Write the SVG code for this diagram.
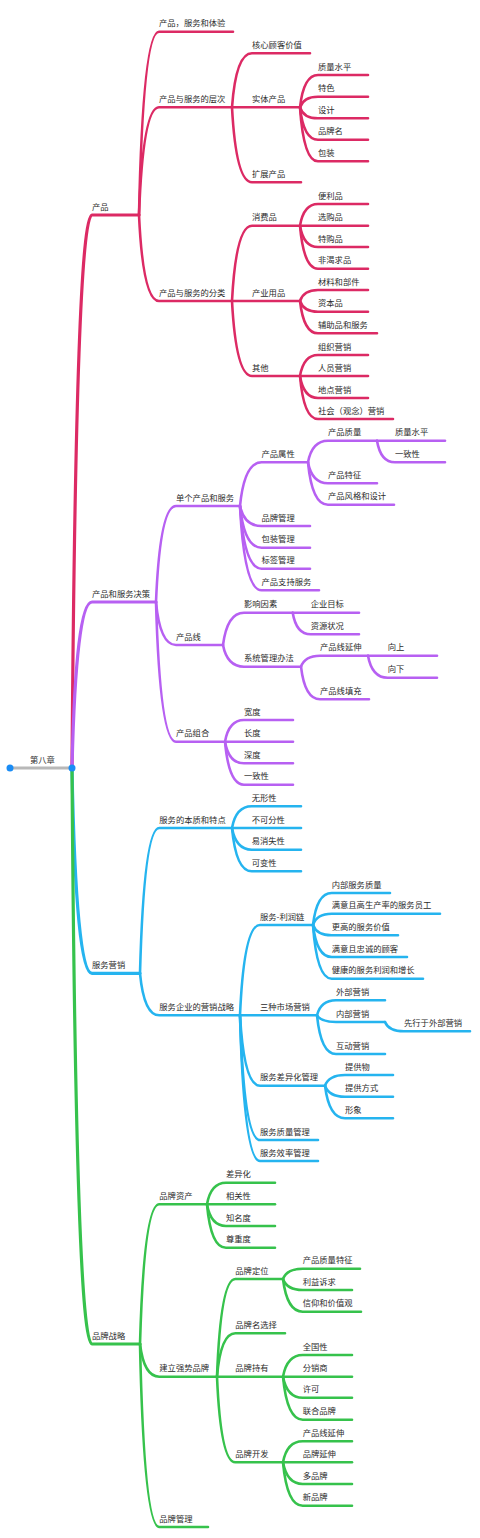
<svg xmlns="http://www.w3.org/2000/svg" width="480" height="1538" viewBox="0 0 480 1538">
<style>
.t{font-family:"Noto Sans CJK SC","Noto Sans",sans-serif;font-size:8.3px;fill:#2b2b2b}
path{fill:none;stroke-width:2.6;stroke-linecap:round;stroke-linejoin:round}
.l1{stroke-width:3.2}
.r{stroke:#dc2a64}.p{stroke:#b760f2}.c{stroke:#25b4ef}.g{stroke:#36c24c}
</style>
<rect width="480" height="1538" fill="#ffffff"/>
<g id="connectors">
<line x1="10" y1="768" x2="72" y2="768" stroke="#b8b8b8" stroke-width="3"/>
<g class="r">
<path class="l1" d="M72 768 Q76 215 92 215 H139"/>
<path d="M139 215 Q143 31.7 159 31.7 H233"/>
<path d="M139 215 Q143 107.3 159 107.3 H232"/>
<path d="M139 215 Q143 301 159 301 H232"/>
<path d="M232 107.3 Q236 53.3 252 53.3 H310"/>
<path d="M232 107.3 H300"/>
<path d="M232 107.3 Q236 182.3 252 182.3 H301"/>
<path d="M300 107.3 Q303.6 75 318 75 H368"/>
<path d="M300 107.3 Q303.6 96.7 318 96.7 H368"/>
<path d="M300 107.3 Q303.6 118.3 318 118.3 H368"/>
<path d="M300 107.3 Q303.6 139.7 318 139.7 H368"/>
<path d="M300 107.3 Q303.6 161.3 318 161.3 H368"/>
<path d="M232 301 Q236 225.7 252 225.7 H300"/>
<path d="M232 301 H300"/>
<path d="M232 301 Q236 376 252 376 H300"/>
<path d="M300 225.7 Q303.6 204 318 204 H368"/>
<path d="M300 225.7 H368"/>
<path d="M300 225.7 Q303.6 247 318 247 H368"/>
<path d="M300 225.7 Q303.6 268.7 318 268.7 H368"/>
<path d="M300 301 Q303.6 290 318 290 H368"/>
<path d="M300 301 Q303.6 311.7 318 311.7 H368"/>
<path d="M300 301 Q303.6 333.3 318 333.3 H377"/>
<path d="M300 376 Q303.6 355 318 355 H368"/>
<path d="M300 376 H368"/>
<path d="M300 376 Q303.6 398 318 398 H368"/>
<path d="M300 376 Q303.6 419 318 419 H393"/>
</g>
<g class="p">
<path class="l1" d="M72 768 Q76 602 92 602 H156"/>
<path d="M156 602 Q160 506 176 506 H240"/>
<path d="M156 602 Q160 645 176 645 H223"/>
<path d="M156 602 Q160 741.7 176 741.7 H225"/>
<path d="M240 506 Q244.3 462.3 261.5 462.3 H308"/>
<path d="M240 506 Q244.3 526 261.5 526 H310"/>
<path d="M240 506 Q244.3 547.7 261.5 547.7 H310"/>
<path d="M240 506 Q244.3 568.7 261.5 568.7 H310"/>
<path d="M240 506 Q244.3 590.3 261.5 590.3 H319"/>
<path d="M308 462.3 Q312 440.7 328 440.7 H377"/>
<path d="M308 462.3 Q312 483.3 328 483.3 H377"/>
<path d="M308 462.3 Q312 504.7 328 504.7 H394"/>
<path d="M377 440.7 H445"/>
<path d="M377 440.7 Q380.6 462.3 395 462.3 H445"/>
<path d="M223 645 Q227.2 612.7 244 612.7 H292.7"/>
<path d="M223 645 Q227.2 666.7 244 666.7 H301"/>
<path d="M292.7 612.7 H359"/>
<path d="M292.7 612.7 Q296.3 634.3 310.7 634.3 H359"/>
<path d="M301 666.7 Q304.8 655.7 320 655.7 H368"/>
<path d="M301 666.7 Q304.8 699.3 320 699.3 H369"/>
<path d="M368 655.7 H437"/>
<path d="M368 655.7 Q372 677.7 387.7 677.7 H437"/>
<path d="M225 741.7 Q228.8 720 244 720 H293"/>
<path d="M225 741.7 H293"/>
<path d="M225 741.7 Q228.8 763.3 244 763.3 H293"/>
<path d="M225 741.7 Q228.8 784.7 244 784.7 H293"/>
</g>
<g class="c">
<path class="l1" d="M72 768 Q76 973.3 92 973.3 H140"/>
<path d="M140 973.3 Q144 828 159.3 828 H232"/>
<path d="M140 973.3 Q144 1015.3 159.3 1015.3 H240"/>
<path d="M232 828 Q236 806.3 251.7 806.3 H301"/>
<path d="M232 828 H301"/>
<path d="M232 828 Q236 849.7 251.7 849.7 H301"/>
<path d="M232 828 Q236 871.3 251.7 871.3 H301"/>
<path d="M240 1015.3 Q244 925 260 925 H313"/>
<path d="M240 1015.3 H317"/>
<path d="M240 1015.3 Q244 1085.7 260 1085.7 H325"/>
<path d="M240 1015.3 Q244 1140 260 1140 H318"/>
<path d="M240 1015.3 Q244 1161 260 1161 H318"/>
<path d="M313 925 Q316.7 893 331.7 893 H390"/>
<path d="M313 925 Q316.7 913.7 331.7 913.7 H440"/>
<path d="M313 925 Q316.7 935.3 331.7 935.3 H398"/>
<path d="M313 925 Q316.7 957 331.7 957 H407"/>
<path d="M313 925 Q316.7 978.7 331.7 978.7 H423"/>
<path d="M317 1015.3 Q320.8 1000.3 336 1000.3 H385"/>
<path d="M317 1015.3 Q320.8 1022 336 1022 H385"/>
<path d="M317 1015.3 Q320.8 1054 336 1054 H385"/>
<path d="M385 1022 Q388.8 1031.3 404 1031.3 H470"/>
<path d="M325 1085.7 Q329 1075 345 1075 H393"/>
<path d="M325 1085.7 Q329 1096.7 345 1096.7 H393"/>
<path d="M325 1085.7 Q329 1118.3 345 1118.3 H393"/>
</g>
<g class="g">
<path class="l1" d="M72 768 Q76 1344 92 1344 H140"/>
<path d="M140 1344 Q144 1204.3 159.3 1204.3 H207"/>
<path d="M140 1344 Q144 1376.7 159.3 1376.7 H217"/>
<path d="M140 1344 Q144 1527 159.3 1527 H208"/>
<path d="M207 1204.3 Q210.8 1182.7 226 1182.7 H275"/>
<path d="M207 1204.3 H275"/>
<path d="M207 1204.3 Q210.8 1226 226 1226 H275"/>
<path d="M207 1204.3 Q210.8 1247.7 226 1247.7 H275"/>
<path d="M217 1376.7 Q220.7 1279 235.3 1279 H283"/>
<path d="M217 1376.7 Q220.7 1333.3 235.3 1333.3 H285"/>
<path d="M217 1376.7 H283"/>
<path d="M217 1376.7 Q220.7 1462.3 235.3 1462.3 H283"/>
<path d="M283 1279 Q287 1268.7 302.7 1268.7 H360"/>
<path d="M283 1279 Q287 1290 302.7 1290 H352"/>
<path d="M283 1279 Q287 1311.7 302.7 1311.7 H361"/>
<path d="M283 1376.7 Q287 1355 302.7 1355 H352"/>
<path d="M283 1376.7 H352"/>
<path d="M283 1376.7 Q287 1397.7 302.7 1397.7 H352"/>
<path d="M283 1376.7 Q287 1419.7 302.7 1419.7 H352"/>
<path d="M283 1462.3 Q287 1441.3 302.7 1441.3 H352"/>
<path d="M283 1462.3 H352"/>
<path d="M283 1462.3 Q287 1484 302.7 1484 H352"/>
<path d="M283 1462.3 Q287 1505.7 302.7 1505.7 H352"/>
</g>
<circle cx="10" cy="768" r="3.5" fill="#1a8cf5"/>
<circle cx="72" cy="768" r="3.5" fill="#1a8cf5"/>
</g>
<g id="root"><text class="t" x="30" y="762.5">第八章</text></g>
<g id="n-chanpin"><text class="t" x="92" y="209.5">产品</text></g>
<g id="n-cpfwty"><text class="t" x="159" y="26.2">产品，服务和体验</text></g>
<g id="n-cengci"><text class="t" x="159" y="101.8">产品与服务的层次</text></g>
<g id="n-fenlei"><text class="t" x="159" y="295.5">产品与服务的分类</text></g>
<g id="n-hexin"><text class="t" x="252" y="47.8">核心顾客价值</text></g>
<g id="n-shiti"><text class="t" x="252" y="101.8">实体产品</text></g>
<g id="n-kuozhan"><text class="t" x="252" y="176.8">扩展产品</text></g>
<g id="n-zlsp1"><text class="t" x="318" y="69.5">质量水平</text></g>
<g id="n-tese"><text class="t" x="318" y="91.2">特色</text></g>
<g id="n-sheji"><text class="t" x="318" y="112.8">设计</text></g>
<g id="n-ppm"><text class="t" x="318" y="134.2">品牌名</text></g>
<g id="n-baozhuang"><text class="t" x="318" y="155.8">包装</text></g>
<g id="n-xiaofei"><text class="t" x="252" y="220.2">消费品</text></g>
<g id="n-chanye"><text class="t" x="252" y="295.5">产业用品</text></g>
<g id="n-qita"><text class="t" x="252" y="370.5">其他</text></g>
<g id="n-bianli"><text class="t" x="318" y="198.5">便利品</text></g>
<g id="n-xuangou"><text class="t" x="318" y="220.2">选购品</text></g>
<g id="n-tegou"><text class="t" x="318" y="241.5">特购品</text></g>
<g id="n-feike"><text class="t" x="318" y="263.2">非渴求品</text></g>
<g id="n-cailiao"><text class="t" x="318" y="284.5">材料和部件</text></g>
<g id="n-ziben"><text class="t" x="318" y="306.2">资本品</text></g>
<g id="n-fuzhu"><text class="t" x="318" y="327.8">辅助品和服务</text></g>
<g id="n-zuzhi"><text class="t" x="318" y="349.5">组织营销</text></g>
<g id="n-renyuan"><text class="t" x="318" y="370.5">人员营销</text></g>
<g id="n-didian"><text class="t" x="318" y="392.5">地点营销</text></g>
<g id="n-shehui"><text class="t" x="318" y="413.5">社会（观念）营销</text></g>
<g id="n-juece"><text class="t" x="92" y="596.5">产品和服务决策</text></g>
<g id="n-dange"><text class="t" x="176" y="500.5">单个产品和服务</text></g>
<g id="n-chanpinxian"><text class="t" x="176" y="639.5">产品线</text></g>
<g id="n-zuhe"><text class="t" x="176" y="736.2">产品组合</text></g>
<g id="n-shuxing"><text class="t" x="261.5" y="456.8">产品属性</text></g>
<g id="n-ppgl"><text class="t" x="261.5" y="520.5">品牌管理</text></g>
<g id="n-bzgl"><text class="t" x="261.5" y="542.2">包装管理</text></g>
<g id="n-bqgl"><text class="t" x="261.5" y="563.2">标签管理</text></g>
<g id="n-zhichi"><text class="t" x="261.5" y="584.8">产品支持服务</text></g>
<g id="n-cpzl"><text class="t" x="328" y="435.2">产品质量</text></g>
<g id="n-cptz"><text class="t" x="328" y="477.8">产品特征</text></g>
<g id="n-fengge"><text class="t" x="328" y="499.2">产品风格和设计</text></g>
<g id="n-zlsp2"><text class="t" x="395" y="435.2">质量水平</text></g>
<g id="n-yzx1"><text class="t" x="395" y="456.8">一致性</text></g>
<g id="n-yingxiang"><text class="t" x="244" y="607.2">影响因素</text></g>
<g id="n-xitong"><text class="t" x="244" y="661.2">系统管理办法</text></g>
<g id="n-qiye"><text class="t" x="310.7" y="607.2">企业目标</text></g>
<g id="n-ziyuan"><text class="t" x="310.7" y="628.8">资源状况</text></g>
<g id="n-yanshen1"><text class="t" x="320" y="650.2">产品线延伸</text></g>
<g id="n-tianchong"><text class="t" x="320" y="693.8">产品线填充</text></g>
<g id="n-xiangshang"><text class="t" x="387.7" y="650.2">向上</text></g>
<g id="n-xiangxia"><text class="t" x="387.7" y="672.2">向下</text></g>
<g id="n-kuandu"><text class="t" x="244" y="714.5">宽度</text></g>
<g id="n-changdu"><text class="t" x="244" y="736.2">长度</text></g>
<g id="n-shendu"><text class="t" x="244" y="757.8">深度</text></g>
<g id="n-yzx2"><text class="t" x="244" y="779.2">一致性</text></g>
<g id="n-fuwu"><text class="t" x="92" y="967.8">服务营销</text></g>
<g id="n-benzhi"><text class="t" x="159.3" y="822.5">服务的本质和特点</text></g>
<g id="n-zhanlue"><text class="t" x="159.3" y="1009.8">服务企业的营销战略</text></g>
<g id="n-wuxing"><text class="t" x="251.7" y="800.8">无形性</text></g>
<g id="n-bukefen"><text class="t" x="251.7" y="822.5">不可分性</text></g>
<g id="n-yixiaoshi"><text class="t" x="251.7" y="844.2">易消失性</text></g>
<g id="n-kebian"><text class="t" x="251.7" y="865.8">可变性</text></g>
<g id="n-lirun"><text class="t" x="260" y="919.5">服务-利润链</text></g>
<g id="n-sanzhong"><text class="t" x="260" y="1009.8">三种市场营销</text></g>
<g id="n-chayi"><text class="t" x="260" y="1080.2">服务差异化管理</text></g>
<g id="n-zlgl"><text class="t" x="260" y="1134.5">服务质量管理</text></g>
<g id="n-xlgl"><text class="t" x="260" y="1155.5">服务效率管理</text></g>
<g id="n-nbfwzl"><text class="t" x="331.7" y="887.5">内部服务质量</text></g>
<g id="n-yuangong"><text class="t" x="331.7" y="908.2">满意且高生产率的服务员工</text></g>
<g id="n-jiazhi"><text class="t" x="331.7" y="929.8">更高的服务价值</text></g>
<g id="n-guke"><text class="t" x="331.7" y="951.5">满意且忠诚的顾客</text></g>
<g id="n-zengzhang"><text class="t" x="331.7" y="973.2">健康的服务利润和增长</text></g>
<g id="n-waibu"><text class="t" x="336" y="994.8">外部营销</text></g>
<g id="n-neibu"><text class="t" x="336" y="1016.5">内部营销</text></g>
<g id="n-hudong"><text class="t" x="336" y="1048.5">互动营销</text></g>
<g id="n-xianxing"><text class="t" x="404" y="1025.8">先行于外部营销</text></g>
<g id="n-tigongwu"><text class="t" x="345" y="1069.5">提供物</text></g>
<g id="n-fangshi"><text class="t" x="345" y="1091.2">提供方式</text></g>
<g id="n-xingxiang"><text class="t" x="345" y="1112.8">形象</text></g>
<g id="n-pinpai"><text class="t" x="92" y="1338.5">品牌战略</text></g>
<g id="n-zichan"><text class="t" x="159.3" y="1198.8">品牌资产</text></g>
<g id="n-jianli"><text class="t" x="159.3" y="1371.2">建立强势品牌</text></g>
<g id="n-ppguanli"><text class="t" x="159.3" y="1521.5">品牌管理</text></g>
<g id="n-chayihua"><text class="t" x="226" y="1177.2">差异化</text></g>
<g id="n-xiangguan"><text class="t" x="226" y="1198.8">相关性</text></g>
<g id="n-zhiming"><text class="t" x="226" y="1220.5">知名度</text></g>
<g id="n-zunzhong"><text class="t" x="226" y="1242.2">尊重度</text></g>
<g id="n-dingwei"><text class="t" x="235.3" y="1273.5">品牌定位</text></g>
<g id="n-mingxuan"><text class="t" x="235.3" y="1327.8">品牌名选择</text></g>
<g id="n-chiyou"><text class="t" x="235.3" y="1371.2">品牌持有</text></g>
<g id="n-kaifa"><text class="t" x="235.3" y="1456.8">品牌开发</text></g>
<g id="n-zltz"><text class="t" x="302.7" y="1263.2">产品质量特征</text></g>
<g id="n-liyi"><text class="t" x="302.7" y="1284.5">利益诉求</text></g>
<g id="n-xinyang"><text class="t" x="302.7" y="1306.2">信仰和价值观</text></g>
<g id="n-quanguo"><text class="t" x="302.7" y="1349.5">全国性</text></g>
<g id="n-fenxiao"><text class="t" x="302.7" y="1371.2">分销商</text></g>
<g id="n-xuke"><text class="t" x="302.7" y="1392.2">许可</text></g>
<g id="n-lianhe"><text class="t" x="302.7" y="1414.2">联合品牌</text></g>
<g id="n-cpxys"><text class="t" x="302.7" y="1435.8">产品线延伸</text></g>
<g id="n-ppys"><text class="t" x="302.7" y="1456.8">品牌延伸</text></g>
<g id="n-duo"><text class="t" x="302.7" y="1478.5">多品牌</text></g>
<g id="n-xin"><text class="t" x="302.7" y="1500.2">新品牌</text></g>
</svg>
